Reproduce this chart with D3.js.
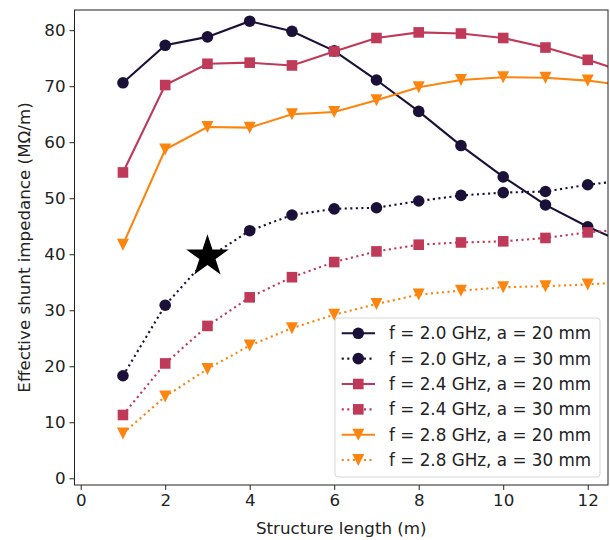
<!DOCTYPE html>
<html>
<head>
<meta charset="utf-8">
<script src="https://cdn.jsdelivr.net/npm/d3@7"></script>
<style>
  body { margin: 0; background: #fff; }
  text { font-family: "DejaVu Sans", sans-serif; fill: #222; }
</style>
</head>
<body>
<svg width="610" height="540"></svg>
<script>
const svg = d3.select("svg");

const margin = { top: 10, right: 2, bottom: 55, left: 74.5 };
const width = 610;
const height = 540;

/* ==========================
   DATA
========================== */

const lengths = [1, 2, 3, 4, 5, 6, 7, 8, 9, 10, 11, 12, 13];

const f20a20 = [70.6, 77.3, 78.8, 81.6, 79.8, 76.3, 71.1, 65.5, 59.4, 53.8, 48.8, 44.9, 41.6];
const f20a30 = [18.3, 30.9, 39.3, 44.2, 47.0, 48.1, 48.3, 49.5, 50.5, 51.0, 51.2, 52.4, 53.3];
const f24a20 = [54.6, 70.2, 74.0, 74.2, 73.7, 76.2, 78.6, 79.6, 79.4, 78.6, 76.9, 74.7, 72.3];
const f24a30 = [11.3, 20.5, 27.2, 32.3, 35.9, 38.6, 40.5, 41.7, 42.1, 42.3, 42.9, 43.9, 44.5];
const f28a20 = [41.7, 58.7, 62.7, 62.6, 65.0, 65.4, 67.5, 69.8, 71.1, 71.6, 71.5, 71.0, 70.0];
const f28a30 = [8.0, 14.6, 19.5, 23.7, 26.8, 29.2, 31.1, 32.8, 33.5, 34.1, 34.3, 34.6, 35.1];

const starPoint = [3, 39.6];

const xTicks = [0, 2, 4, 6, 8, 10, 12];
const yTicks = [0, 10, 20, 30, 40, 50, 60, 70, 80];

const series = [
    { label: "f = 2.0 GHz, a = 20 mm", values: f20a20, color: "#1b1138", marker: "circle", dotted: false },
    { label: "f = 2.0 GHz, a = 30 mm", values: f20a30, color: "#1b1138", marker: "circle", dotted: true },
    { label: "f = 2.4 GHz, a = 20 mm", values: f24a20, color: "#bf3958", marker: "square", dotted: false },
    { label: "f = 2.4 GHz, a = 30 mm", values: f24a30, color: "#bf3958", marker: "square", dotted: true },
    { label: "f = 2.8 GHz, a = 20 mm", values: f28a20, color: "#fb850f", marker: "triangle", dotted: false },
    { label: "f = 2.8 GHz, a = 30 mm", values: f28a30, color: "#fb850f", marker: "triangle", dotted: true }
];

/* ==========================
   SCALES
========================== */

const x = d3.scaleLinear()
    .domain([-0.147, 12.48])
    .range([margin.left, width - margin.right]);

const y = d3.scaleLinear()
    .domain([-1.2, 83.6])
    .range([height - margin.bottom, margin.top]);

svg.append("defs").append("clipPath")
    .attr("id", "plot-clip")
    .append("rect")
    .attr("x", margin.left)
    .attr("y", margin.top)
    .attr("width", width - margin.right - margin.left)
    .attr("height", height - margin.bottom - margin.top);

/* ==========================
   MARKERS
========================== */

function drawMarker(g, type, cx, cy, color) {
    if (type === "circle") {
        g.append("circle")
            .attr("cx", cx)
            .attr("cy", cy)
            .attr("r", 5.8)
            .attr("fill", color);
    }
    if (type === "square") {
        g.append("rect")
            .attr("x", cx - 5.3)
            .attr("y", cy - 5.3)
            .attr("width", 10.6)
            .attr("height", 10.6)
            .attr("fill", color);
    }
    if (type === "triangle") {
        g.append("path")
            .attr("d", `M${cx - 6},${cy - 6} L${cx + 6},${cy - 6} L${cx},${cy + 6} Z`)
            .attr("fill", color);
    }
}

/* ==========================
   LINES
========================== */

const plot = svg.append("g").attr("clip-path", "url(#plot-clip)");

series.forEach(s => {
    const line = d3.line()
        .x((d, i) => x(lengths[i]))
        .y(d => y(d));

    plot.append("path")
        .datum(s.values)
        .attr("d", line)
        .attr("fill", "none")
        .attr("stroke", s.color)
        .attr("stroke-width", 2.1)
        .attr("stroke-dasharray", s.dotted ? "2.1,3.45" : null);

    s.values.forEach((v, i) => {
        drawMarker(plot, s.marker, x(lengths[i]), y(v), s.color);
    });
});

plot.append("path")
    .attr("transform", `translate(${x(starPoint[0])},${y(starPoint[1])})`)
    .attr("d", d3.symbol().type(d3.symbolStar).size(560)())
    .attr("fill", "#000");

/* ==========================
   AXES
========================== */

const xAxis = svg.append("g")
    .attr("transform", `translate(0,${height - margin.bottom})`)
    .call(d3.axisBottom(x).tickValues(xTicks).tickSize(5).tickPadding(4));

const yAxis = svg.append("g")
    .attr("transform", `translate(${margin.left},0)`)
    .call(d3.axisLeft(y).tickValues(yTicks).tickSize(5).tickPadding(4));

[xAxis, yAxis].forEach(a => {
    a.select(".domain").remove();
    a.selectAll("line").attr("stroke", "#222").attr("stroke-width", 1);
    a.selectAll("text")
        .style("font-family", "DejaVu Sans")
        .style("font-size", "16.7px")
        .attr("fill", "#222");
});

svg.append("rect")
    .attr("x", margin.left)
    .attr("y", margin.top)
    .attr("width", width - margin.right - margin.left)
    .attr("height", height - margin.bottom - margin.top)
    .attr("fill", "none")
    .attr("stroke", "#222")
    .attr("stroke-width", 1);

svg.append("text")
    .attr("x", (margin.left + width - margin.right) / 2)
    .attr("y", 534)
    .attr("text-anchor", "middle")
    .style("font-size", "16.7px")
    .text("Structure length (m)");

svg.append("text")
    .attr("transform", `translate(29.5,${(margin.top + height - margin.bottom) / 2}) rotate(-90)`)
    .attr("text-anchor", "middle")
    .style("font-size", "16.7px")
    .text("Effective shunt impedance (MΩ/m)");

/* ==========================
   LEGEND
========================== */

const legend = svg.append("g").attr("transform", "translate(335,318)");

legend.append("rect")
    .attr("width", 265)
    .attr("height", 159)
    .attr("rx", 3)
    .attr("fill", "white")
    .attr("fill-opacity", 0.8)
    .attr("stroke", "#d6d6d6");

series.forEach((s, i) => {
    const cy = 15.3 + i * 25.35;
    legend.append("line")
        .attr("x1", 6.7)
        .attr("x2", 40)
        .attr("y1", cy)
        .attr("y2", cy)
        .attr("stroke", s.color)
        .attr("stroke-width", 2.1)
        .attr("stroke-dasharray", s.dotted ? "2.1,3.45" : null);

    drawMarker(legend, s.marker, 23.3, cy, s.color);

    legend.append("text")
        .attr("x", 54)
        .attr("y", cy)
        .attr("dy", "0.36em")
        .style("font-size", "16.8px")
        .text(s.label);
});
</script>
</body>
</html>
